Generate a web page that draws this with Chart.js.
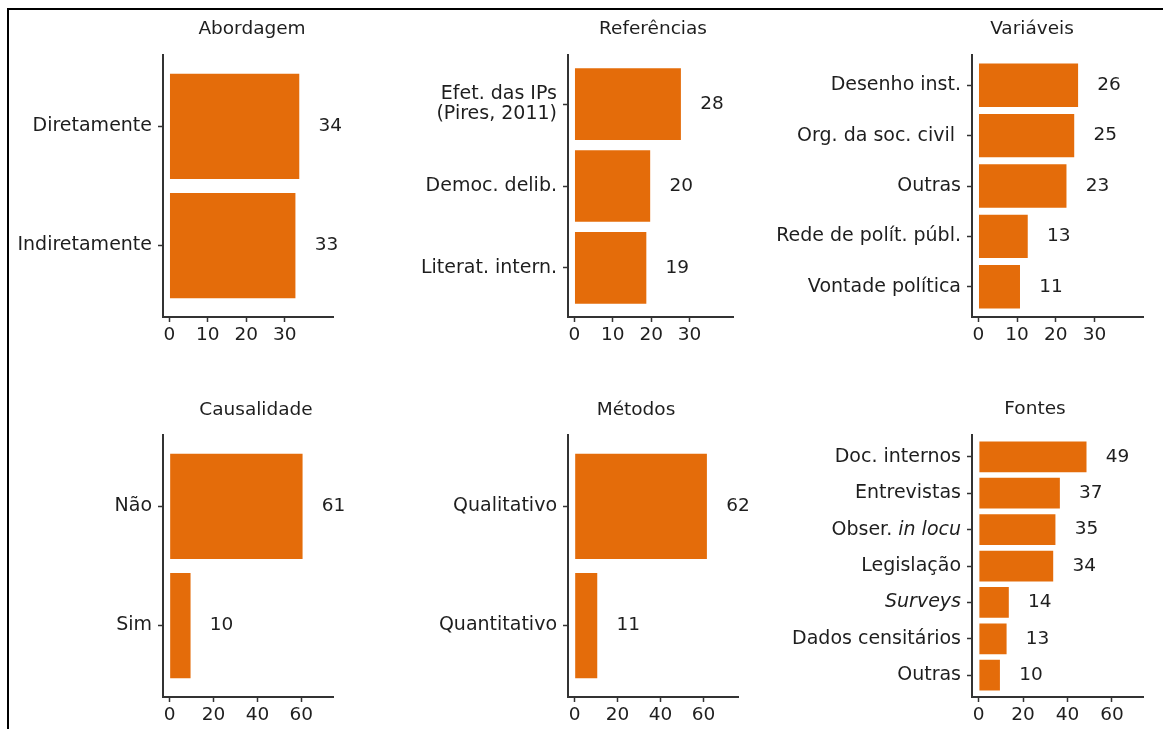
<!DOCTYPE html>
<html>
<head>
<meta charset="utf-8">
<script src="https://cdn.jsdelivr.net/npm/chart.js@4.4.1/dist/chart.umd.min.js"></script>
<title>Estudos sobre efetividade das IPs</title>
<style>
    body { margin: 0; background: #fff; }
    #page { position: relative; width: 1163px; height: 729px; overflow: hidden; }
    #frame { position: absolute; left: 7px; top: 8px; right: -10px; bottom: -10px;
             border-top: 2px solid #000; border-left: 2px solid #000; }
    .panel { position: absolute; }
</style>
</head>
<body>
<div id="page">
    <div id="frame"></div>
</div>

<script>
    // data
    var abordagemCats = ['Diretamente', 'Indiretamente'];
    var abordagemVals = [34, 33];
    var referenciasCats = [['Efet. das IPs', '(Pires, 2011)'], 'Democ. delib.', 'Literat. intern.'];
    var referenciasVals = [28, 20, 19];
    var variaveisCats = ['Desenho inst.', 'Org. da soc. civil ', 'Outras', 'Rede de polít. públ.', 'Vontade política'];
    var variaveisVals = [26, 25, 23, 13, 11];
    var causalidadeCats = ['Não', 'Sim'];
    var causalidadeVals = [61, 10];
    var metodosCats = ['Qualitativo', 'Quantitativo'];
    var metodosVals = [62, 11];
    var fontesCats = ['Doc. internos', 'Entrevistas', 'Obser. in locu', 'Legislação', 'Surveys', 'Dados censitários', 'Outras'];
    var fontesVals = [49, 37, 35, 34, 14, 13, 10];
    var italicTerms = ['in locu', 'Surveys'];
    var ticksTop = [0, 10, 20, 30];
    var ticksBottom = [0, 20, 40, 60];

    var FONT = '"DejaVu Sans", Verdana, sans-serif';
    var FONT_SIZE = 18.5;
    var LABEL_SIZE = 19;
    var TEXT = '#1e1e1e';
    var AXIS = '#333333';
    var BAR = '#E46C0A';

    // layout in page pixels: box = [left, top, width, height], area = [left, top, right, bottom]
    var panels = [
        {title: 'Abordagem', cats: abordagemCats, vals: abordagemVals, ticks: ticksTop, min: -1.65, max: 42.5,
         box: [10, 10, 390, 360], area: [163, 55, 333, 317], titleX: 252, titleY: 33.5},
        {title: 'Referências', cats: referenciasCats, vals: referenciasVals, ticks: ticksTop, min: -1.65, max: 41.3,
         box: [400, 10, 375, 360], area: [568, 55, 733, 317], titleX: 653, titleY: 33.5},
        {title: 'Variáveis', cats: variaveisCats, vals: variaveisVals, ticks: ticksTop, min: -1.65, max: 42.5,
         box: [775, 10, 388, 360], area: [972, 55, 1143, 317], titleX: 1032, titleY: 33.5},
        {title: 'Causalidade', cats: causalidadeCats, vals: causalidadeVals, ticks: ticksBottom, min: -3.0, max: 74.4,
         box: [10, 370, 390, 359], area: [163, 435, 333, 697], titleX: 256, titleY: 414.5},
        {title: 'Métodos', cats: metodosCats, vals: metodosVals, ticks: ticksBottom, min: -3.07, max: 76,
         box: [400, 370, 375, 359], area: [568, 435, 738, 697], titleX: 636, titleY: 414.5},
        {title: 'Fontes', cats: fontesCats, vals: fontesVals, ticks: ticksBottom, min: -3.03, max: 74,
         box: [775, 370, 388, 359], area: [972, 435, 1143, 697], titleX: 1035, titleY: 414}
    ];

    function font(italic, size) {
        return (italic ? 'italic ' : '') + (size || FONT_SIZE) + 'px ' + FONT;
    }

    // split a label into normal / italic pieces
    function segments(text) {
        var out = [];
        var rest = text;
        while (rest.length) {
            var hit = -1, term = null;
            italicTerms.forEach(t => {
                var k = rest.indexOf(t);
                if (k >= 0 && (hit < 0 || k < hit)) { hit = k; term = t; }
            });
            if (hit < 0) { out.push({text: rest, italic: false}); break; }
            if (hit > 0) out.push({text: rest.slice(0, hit), italic: false});
            out.push({text: term, italic: true});
            rest = rest.slice(hit + term.length);
        }
        return out;
    }

    // category labels on the y axis (drawn here so parts can be italic)
    var yLabelsPlugin = {
        id: 'yLabels',
        afterDraw(chart) {
            var p = chart.options.plugins.panel;
            var ctx = chart.ctx;
            var yScale = chart.scales.y;
            var right = chart.chartArea.left - 11;
            ctx.save();
            ctx.fillStyle = TEXT;
            ctx.textBaseline = 'middle';
            ctx.textAlign = 'left';
            p.cats.forEach((label, i) => {
                var lines = Array.isArray(label) ? label : [label];
                var y0 = yScale.getPixelForValue(i) - (lines.length - 1) * 10;
                lines.forEach((line, j) => {
                    var segs = segments(line);
                    var total = 0;
                    segs.forEach(s => { ctx.font = font(s.italic, LABEL_SIZE); s.w = ctx.measureText(s.text).width; total += s.w; });
                    var x = right - total;
                    segs.forEach(s => { ctx.font = font(s.italic, LABEL_SIZE); ctx.fillText(s.text, x, y0 + j * 20); x += s.w; });
                });
            });
            ctx.restore();
        }
    };

    // value labels next to the bars and the panel title
    var annotatePlugin = {
        id: 'annotate',
        afterDatasetsDraw(chart) {
            var p = chart.options.plugins.panel;
            var ctx = chart.ctx;
            ctx.save();
            ctx.fillStyle = TEXT;
            ctx.font = font(false);
            ctx.textAlign = 'center';
            ctx.textBaseline = 'middle';
            chart.getDatasetMeta(0).data.forEach((bar, i) => {
                ctx.fillText(String(p.vals[i]), bar.x + 30, bar.y);
            });
            ctx.textBaseline = 'alphabetic';
            ctx.fillText(p.title, p.titleX - p.box[0], p.titleY - p.box[1]);
            ctx.restore();
        }
    };

    panels.forEach(p => {
        var div = document.createElement('div');
        div.className = 'panel';
        div.style.left = p.box[0] + 'px';
        div.style.top = p.box[1] + 'px';
        var canvas = document.createElement('canvas');
        canvas.width = p.box[2];
        canvas.height = p.box[3];
        div.appendChild(canvas);
        document.getElementById('page').appendChild(div);

        var n = p.cats.length;
        new Chart(canvas, {
            type: 'bar',
            data: {
                datasets: [{
                    data: p.vals.map((v, i) => ({x: v, y: i})),
                    backgroundColor: BAR,
                    borderColor: 'rgba(255,255,255,0.6)',
                    borderWidth: 1,
                    categoryPercentage: 0.9,
                    barPercentage: 1
                }]
            },
            options: {
                indexAxis: 'y',
                responsive: false,
                animation: false,
                events: [],
                layout: {
                    padding: {
                        left: 0,
                        top: p.area[1] - p.box[1],
                        right: p.box[0] + p.box[2] - p.area[2],
                        bottom: 0
                    }
                },
                plugins: {
                    legend: {display: false},
                    tooltip: {enabled: false},
                    title: {display: false},
                    panel: p
                },
                scales: {
                    x: {
                        type: 'linear',
                        min: p.min,
                        max: p.max,
                        afterBuildTicks: s => { s.ticks = p.ticks.map(v => ({value: v})); },
                        afterFit: s => { s.height = p.box[1] + p.box[3] - p.area[3]; },
                        ticks: {
                            color: TEXT,
                            font: {family: FONT, size: FONT_SIZE},
                            padding: 2,
                            maxRotation: 0,
                            autoSkip: false
                        },
                        grid: {drawOnChartArea: false, tickLength: 5, tickColor: AXIS, tickWidth: 1.5},
                        border: {display: true, color: AXIS, width: 2}
                    },
                    y: {
                        type: 'linear',
                        reverse: true,
                        offset: false,
                        min: -0.6,
                        max: n - 0.4,
                        afterBuildTicks: s => { s.ticks = p.cats.map((c, i) => ({value: i})); },
                        afterFit: s => { s.width = p.area[0] - p.box[0]; },
                        ticks: {display: false},
                        grid: {offset: false, drawOnChartArea: false, tickLength: 5, tickColor: AXIS, tickWidth: 1.5},
                        border: {display: true, color: AXIS, width: 2}
                    }
                }
            },
            plugins: [yLabelsPlugin, annotatePlugin]
        });
    });
</script>
</body>
</html>
